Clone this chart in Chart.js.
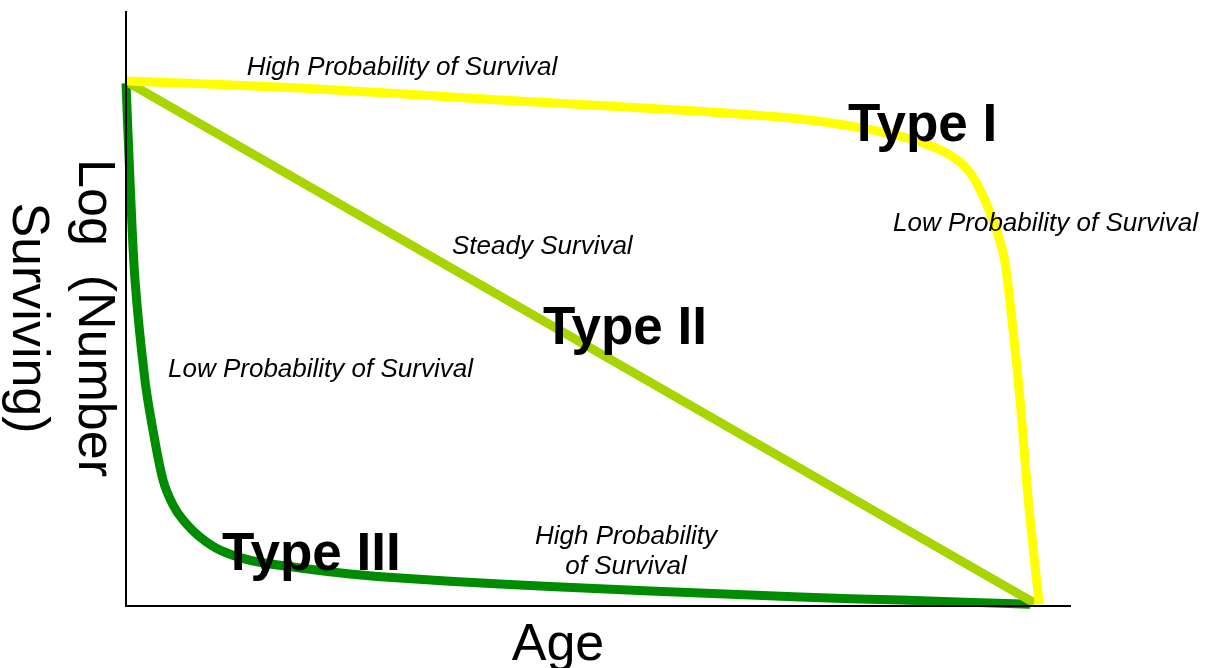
<!DOCTYPE html>
<html>
<head>
<meta charset="utf-8">
<script src="https://cdn.jsdelivr.net/npm/chart.js@4/dist/chart.umd.min.js"></script>
<style>
  html, body { margin: 0; padding: 0; background: #ffffff; }
  canvas { display: block; }
</style>
</head>
<body>
<canvas id="c" width="1206" height="668"></canvas>
<script>
// Age (x) and log number surviving (y) for each survivorship curve
const typeIAge      = [0, 19.2, 41.2, 63.2, 74.3, 79.8, 85.3, 89.7, 91.9, 93.2, 94.6, 95.9, 96.8, 97.6, 98.5, 99.4, 100.6];
const typeISurv     = [88.4, 87.2, 85.2, 83.3, 82.0, 80.8, 79.1, 76.8, 74.7, 72.5, 68.4, 63.3, 58.2, 48.2, 34.7, 17.9, 0.3];
const typeIIAge     = [0.4, 100.1];
const typeIISurv    = [88.0, 0.5];
const typeIIIAge    = [0, 0.44, 0.99, 2.09, 2.97, 4.08, 5.18, 6.28, 8.15, 10.36, 13.66, 19.17, 24.68, 30.19, 41.2, 52.22, 63.24, 74.25, 85.27, 99.6];
const typeIIISurv   = [88.0, 71.7, 54.9, 38.0, 29.6, 21.2, 17.0, 14.5, 11.6, 9.4, 7.7, 6.4, 5.4, 4.7, 3.7, 2.9, 2.2, 1.5, 1.0, 0.3];
const seriesNames   = ["Type I", "Type II", "Type III"];
const seriesColors  = ["#ffff00", "#a8d400", "#008c00"];

const toPoints = (xs, ys) => xs.map((x, i) => ({ x: x, y: ys[i] }));

const FONT = "'Liberation Sans', Arial, sans-serif";

const labelsPlugin = {
  id: 'labels',
  afterDatasetsDraw(chart) {
    const ctx = chart.ctx;
    const a = chart.chartArea;
    ctx.save();
    ctx.strokeStyle = '#000';
    ctx.lineWidth = 2;
    ctx.beginPath();
    ctx.moveTo(a.left, a.top);
    ctx.lineTo(a.left, a.bottom);
    ctx.lineTo(a.right, a.bottom);
    ctx.stroke();

    ctx.fillStyle = '#000';
    ctx.textBaseline = 'alphabetic';
    const t = (s, x, y, font, align) => { ctx.font = font; ctx.textAlign = align || 'left'; ctx.fillText(s, x, y); };
    const ital = 'italic 26px ' + FONT;
    const bold = 'bold 53px ' + FONT;
    t('High Probability of Survival', 402, 75, ital, 'center');
    t('Type I', 848, 141, bold);
    t('Low Probability of Survival', 893, 231, ital);
    t('Steady Survival', 452, 254, ital);
    t('Type II', 543, 344, bold);
    t('Low Probability of Survival', 168, 377, ital);
    t('Type III', 222, 570, bold);
    t('High Probability', 626, 544, ital, 'center');
    t('of Survival', 626, 574, ital, 'center');
    t('Age', 558, 660, '52px ' + FONT, 'center');

    // y-axis title, rotated clockwise
    ctx.translate(79, 318);
    ctx.rotate(Math.PI / 2);
    ctx.font = '52px ' + FONT;
    ctx.textAlign = 'center';
    ctx.fillText('Log  (Number', 0, 0);
    ctx.fillText('Surviving)', 0, 66);
    ctx.restore();
  }
};

new Chart(document.getElementById('c'), {
  type: 'line',
  data: {
    datasets: [
      { label: seriesNames[0], data: toPoints(typeIAge, typeISurv), borderColor: seriesColors[0] },
      { label: seriesNames[1], data: toPoints(typeIIAge, typeIISurv), borderColor: seriesColors[1] },
      { label: seriesNames[2], data: toPoints(typeIIIAge, typeIIISurv), borderColor: seriesColors[2] }
    ].map(d => Object.assign(d, {
      borderWidth: 9,
      pointRadius: 0,
      fill: false,
      tension: 0.3,
      clip: false,
      borderCapStyle: 'butt',
      borderJoinStyle: 'round'
    }))
  },
  options: {
    responsive: false,
    animation: false,
    devicePixelRatio: 1,
    layout: { padding: { left: 126, top: 12, right: 136, bottom: 62 } },
    plugins: { legend: { display: false }, tooltip: { enabled: false } },
    scales: {
      x: {
        type: 'linear', min: 0, max: 104,
        ticks: { display: false },
        grid: { display: false, drawTicks: false },
        border: { display: true, color: '#000', width: 2 }
      },
      y: {
        type: 'linear', min: 0, max: 100,
        ticks: { display: false },
        grid: { display: false, drawTicks: false },
        border: { display: true, color: '#000', width: 2 }
      }
    }
  },
  plugins: [labelsPlugin]
});
</script>
</body>
</html>
